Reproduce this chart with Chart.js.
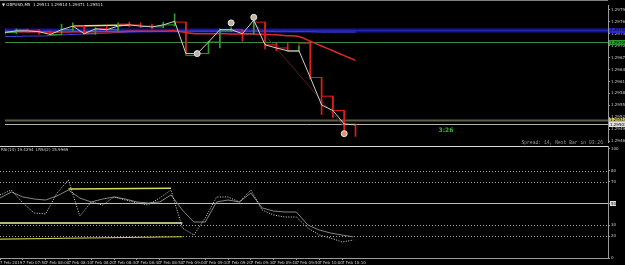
<!DOCTYPE html>
<html>
<head>
<meta charset="utf-8">
<script src="https://cdn.jsdelivr.net/npm/chart.js@4.4.1/dist/chart.umd.min.js"></script>
<style>
html,body{margin:0;padding:0;background:#000;overflow:hidden}
#wrap{position:relative;width:625px;height:265px;background:#000}
#priceChart{position:absolute;left:0;top:0}
#rsiChart{position:absolute;left:0;top:146px}
</style>
</head>
<body>
<div id="wrap">
<canvas id="priceChart" width="625" height="147"></canvas>
<canvas id="rsiChart" width="625" height="119"></canvas>
</div>
<script>
// GBPUSD M5, 7 Feb 2019 07:40 - 10:15
var timeLabels = ['7 Feb 2019','7 Feb 07:50','7 Feb 08:00','7 Feb 08:10','7 Feb 08:20','7 Feb 08:30','7 Feb 08:40','7 Feb 08:50',
  '7 Feb 09:00','7 Feb 09:10','7 Feb 09:20','7 Feb 09:30','7 Feb 09:40','7 Feb 09:50','7 Feb 10:00','7 Feb 10:10'];

var barOpen  = [1.29735,1.29733,1.29740,1.29737,1.29735,1.29728,1.29740,1.29749,1.29730,1.29742,1.29740,1.29754,1.29752,1.29749,1.29747,1.29752,
                1.29759,1.29675,1.29680,1.29709,1.29737,1.29740,1.29730,1.29759,1.29702,1.29694,1.29685,1.29706,1.29620,1.29573,1.29537,1.29503];
var barHigh  = [1.29740,1.29742,1.29742,1.29740,1.29737,1.29754,1.29757,1.29749,1.29745,1.29749,1.29757,1.29759,1.29757,1.29754,1.29759,1.29780,
                1.29759,1.29685,1.29711,1.29742,1.29745,1.29740,1.29771,1.29759,1.29706,1.29706,1.29699,1.29706,1.29620,1.29573,1.29537,1.29503];
var barLow   = [1.29728,1.29730,1.29733,1.29728,1.29725,1.29728,1.29737,1.29728,1.29728,1.29737,1.29737,1.29747,1.29745,1.29742,1.29745,1.29749,
                1.29680,1.29675,1.29680,1.29694,1.29735,1.29711,1.29728,1.29692,1.29687,1.29685,1.29685,1.29616,1.29527,1.29520,1.29479,1.29472];
var barClose = [1.29733,1.29737,1.29737,1.29735,1.29728,1.29740,1.29749,1.29730,1.29742,1.29740,1.29749,1.29752,1.29749,1.29747,1.29752,1.29761,
                1.29680,1.29680,1.29709,1.29740,1.29740,1.29730,1.29764,1.29702,1.29694,1.29687,1.29687,1.29620,1.29551,1.29537,1.29503,1.29501];

var maRed  = [1.29735,1.29735,1.29735,1.29735,1.29734,1.29734,1.29735,1.29735,1.29735,1.29735,1.29735,1.29736,1.29736,1.29736,1.29736,1.29737,
              1.29733,1.29730,1.29730,1.29730,1.29729,1.29729,1.29729,1.29728,1.29727,1.29725,1.29723,1.29711,1.29699,1.29687,1.29675,1.29663];
var maBlue = [1.29723,1.29723,1.29724,1.29724,1.29725,1.29727,1.29728,1.29729,1.29730,1.29731,1.29733,1.29734,1.29735,1.29735,1.29736,1.29736,
              1.29736,1.29736,1.29736,1.29736,1.29736,1.29736,1.29736,1.29736,1.29735,1.29735,1.29735,1.29735,1.29734,1.29734,1.29734,1.29734];

var priceTicks = [1.29790,1.29760,1.29730,1.29700,1.29670,1.29640,1.29610,1.29580,1.29550,1.29520,1.29490,1.29460];
var levelPrices = [1.29740, 1.29709, 1.29514, 1.29503];
var wavePoints = [[17, 1.29680], [20, 1.29757], [22, 1.29771], [30, 1.29479]];
var trendYellow = [[6, 1.29749], [11, 1.29752]];
var trendDarkRed = [[22, 1.29759], [30, 1.29496]];

var rsiMain   = [57.8,62.4,50.5,41.3,40.4,59.6,71.6,38.5,51.4,48.6,56.0,53.2,50.5,48.6,55.0,62.4,
                 27.5,21.1,36.7,56.0,56.0,51.4,62.4,44.0,39.4,37.6,37.6,27.5,21.1,18.3,14.7,16.5];
var rsiSignal = [55.0,60.6,56.0,54.1,53.2,56.9,62.4,55.0,51.4,54.1,56.0,54.1,51.4,50.5,51.4,57.8,
                 44.0,33.0,33.0,51.4,53.2,51.4,59.6,45.9,43.1,42.2,42.2,30.3,25.7,22.9,21.1,19.3];
var rsiTicks = [100, 80, 70, 50, 30, 20, 0];
var rsiDotLevels = [80, 70, 30, 20];
var rsiMid = 50;
var rsiTrendTop = [[6, 63.3], [15, 64.0]];
var rsiTrendMid = [[0, 32.1], [16, 32.1]];
var rsiTrendLow = [[0, 17.4], [16, 19.5]];

var VISIBLE_BARS = 53.33;

function pts(arr) { return arr.map(function (v, i) { return {x: i, y: v}; }); }
function pairs(arr) { return arr.map(function (p) { return {x: p[0], y: p[1]}; }); }

var barColor = barClose.map(function (c, i) { return c >= barOpen[i] ? '#2f9a2f' : '#e21c1c'; });

var mainDeco = {
  id: 'mainDeco',
  beforeDatasetsDraw: function (chart) {
    var ctx = chart.ctx, a = chart.chartArea, y = chart.scales.y;
    ctx.save();
    var cols = ['#16168a', '#3c8a3c', '#5e5e44', '#b4b4b4'];
    var wid = [4, 1, 2, 1];
    levelPrices.forEach(function (p, k) {
      var py = Math.round(y.getPixelForValue(p)) + 0.5;
      ctx.strokeStyle = cols[k]; ctx.lineWidth = wid[k];
      ctx.beginPath(); ctx.moveTo(a.left, py); ctx.lineTo(a.right, py); ctx.stroke();
      if (k === 0) {
        ctx.strokeStyle = '#2424b4'; ctx.lineWidth = 1;
        ctx.beginPath(); ctx.moveTo(a.left, py); ctx.lineTo(a.right, py); ctx.stroke();
      }
    });
    ctx.strokeStyle = '#808080'; ctx.lineWidth = 1;
    ctx.beginPath(); ctx.moveTo(0, 0.5); ctx.lineTo(a.right, 0.5); ctx.stroke();
    ctx.restore();
  },
  afterDraw: function (chart) {
    var ctx = chart.ctx, a = chart.chartArea, y = chart.scales.y;
    ctx.save();
    var tagCols = ['#2a2ad0', '#2e9a2e', '#c8c060', '#e0e0e0'];
    ctx.font = '4px "DejaVu Sans"';
    ctx.textBaseline = 'middle';
    levelPrices.forEach(function (p, k) {
      var py = y.getPixelForValue(p);
      ctx.fillStyle = tagCols[k];
      ctx.fillRect(a.right + 1, Math.round(py) - 2, 16, 5);
      ctx.fillStyle = '#000';
      ctx.fillText(p.toFixed(5), a.right + 2, py + 0.5);
    });
    ctx.fillStyle = '#e0e0e0';
    ctx.font = '4px "DejaVu Sans"';
    ctx.fillText('\u25BC GBPUSD,M5  1.29511 1.29514 1.29471 1.29511', 2, 5);
    ctx.fillStyle = '#3fb83f';
    ctx.font = 'bold 6px "DejaVu Sans"';
    ctx.textAlign = 'center';
    ctx.fillText('3:26', 446, 130);
    ctx.fillStyle = '#9a9a9a';
    ctx.font = '4.7px "Liberation Mono"';
    ctx.textAlign = 'right';
    ctx.fillText('Spread: 14, Next Bar in 03:26', 603, 143);
    ctx.restore();
  }
};

var rsiDeco = {
  id: 'rsiDeco',
  beforeDatasetsDraw: function (chart) {
    var ctx = chart.ctx, a = chart.chartArea, y = chart.scales.y;
    ctx.save();
    ctx.strokeStyle = '#a8a8a8'; ctx.lineWidth = 1;
    ctx.setLineDash([1, 2]);
    rsiDotLevels.forEach(function (v) {
      var py = Math.round(y.getPixelForValue(v)) + 0.5;
      ctx.beginPath(); ctx.moveTo(a.left, py); ctx.lineTo(a.right, py); ctx.stroke();
    });
    ctx.setLineDash([]);
    ctx.strokeStyle = '#bcbcbc';
    var pm = Math.round(y.getPixelForValue(rsiMid)) + 0.5;
    ctx.beginPath(); ctx.moveTo(a.left, pm); ctx.lineTo(a.right, pm); ctx.stroke();
    ctx.strokeStyle = '#d8d8d8';
    ctx.beginPath(); ctx.moveTo(0, 0.5); ctx.lineTo(a.right, 0.5); ctx.stroke();
    ctx.restore();
  },
  afterDraw: function (chart) {
    var ctx = chart.ctx, a = chart.chartArea, y = chart.scales.y;
    ctx.save();
    var pm = y.getPixelForValue(rsiMid);
    ctx.fillStyle = '#e0e0e0';
    ctx.fillRect(a.right + 2, Math.round(pm) - 2, 6, 5);
    ctx.fillStyle = '#000';
    ctx.font = '4px "DejaVu Sans"';
    ctx.textBaseline = 'middle';
    ctx.fillText('50', a.right + 3, pm + 0.5);
    ctx.fillStyle = '#d0d0d0';
    ctx.fillText('RSI(14) 19.4294  LRSI(2) 15.9969', 1, 4);
    ctx.restore();
  }
};

function rightAxis(min, max, ticks, fmt) {
  return {
    position: 'right', min: min, max: max,
    afterFit: function (s) { s.width = 17; s.paddingTop = 0; s.paddingBottom = 0; },
    afterBuildTicks: function (s) { s.ticks = ticks.map(function (v) { return {value: v}; }); },
    ticks: { color: '#c8c8c8', font: {size: 4, family: 'DejaVu Sans'}, padding: 1, callback: fmt },
    grid: { drawOnChartArea: false, tickLength: 2, color: '#9a9a9a' },
    border: { color: '#9a9a9a' }
  };
}

new Chart(document.getElementById('priceChart'), {
  type: 'bar',
  data: {
    datasets: [
      { type: 'line', data: pairs(wavePoints), showLine: false, pointRadius: 3, pointBorderWidth: 1,
        pointBackgroundColor: ['#bcb59c', '#bcb59c', '#bcb59c', '#e0946a'], pointBorderColor: '#e6e6e6' },
      { type: 'line', data: pts(barClose), borderColor: '#c8d4c8', borderWidth: 1, pointRadius: 0 },
      { type: 'bar', data: barLow.map(function (l, i) { return {x: i, y: [l, barHigh[i]]}; }),
        backgroundColor: barColor, barThickness: 1 },
      { type: 'line', data: pts(barOpen), stepped: 'after', borderWidth: 1, pointRadius: 0,
        segment: { borderColor: function (c) { return barColor[c.p1DataIndex]; } } },
      { type: 'line', data: pairs(trendYellow), borderColor: '#e8e070', borderWidth: 1.5, pointRadius: 0 },
      { type: 'line', data: pairs(trendDarkRed), borderColor: '#5e1c1c', borderWidth: 1, pointRadius: 0 },
      { type: 'line', data: pts(maRed), borderColor: '#e02828', borderWidth: 1.5, pointRadius: 0, tension: 0.3 },
      { type: 'line', data: pts(maBlue), borderColor: '#4040d8', borderWidth: 1, pointRadius: 0, tension: 0.3 }
    ]
  },
  options: {
    responsive: false, devicePixelRatio: 1, animation: false, events: [],
    layout: { padding: { top: 2, bottom: 1, left: 0, right: 0 } },
    plugins: { legend: { display: false }, tooltip: { enabled: false } },
    scales: {
      x: { type: 'linear', min: 0, max: VISIBLE_BARS, offset: false, display: false },
      y: rightAxis(1.29458, 1.29802, priceTicks, function (v) { return v.toFixed(5); })
    }
  },
  plugins: [mainDeco]
});

new Chart(document.getElementById('rsiChart'), {
  type: 'line',
  data: {
    datasets: [
      { data: pts(rsiMain), borderColor: '#dcdcdc', borderWidth: 1, borderDash: [1, 1.5], pointRadius: 0 },
      { data: pts(rsiSignal), borderColor: '#7c8c7c', borderWidth: 1, pointRadius: 0 },
      { data: pairs(rsiTrendTop), borderColor: '#d8d860', borderWidth: 1.5, pointRadius: 0 },
      { data: pairs(rsiTrendMid), borderColor: '#f0f0b0', borderWidth: 1.5, pointRadius: 0 },
      { data: pairs(rsiTrendLow), borderColor: '#c4c444', borderWidth: 1.2, pointRadius: 0 }
    ]
  },
  options: {
    responsive: false, devicePixelRatio: 1, animation: false, events: [],
    layout: { padding: 0 },
    plugins: { legend: { display: false }, tooltip: { enabled: false } },
    scales: {
      x: {
        type: 'linear', min: 0, max: VISIBLE_BARS, offset: false, position: 'bottom',
        afterFit: function (s) { s.height = 7; s.paddingLeft = 0; s.paddingRight = 0; },
        afterBuildTicks: function (s) { s.ticks = timeLabels.map(function (t, k) { return {value: k * 2}; }); },
        ticks: { color: '#c8c8c8', font: {size: 4, family: 'DejaVu Sans'}, padding: 1, align: 'start',
          maxRotation: 0, autoSkip: false, callback: function (v) { return timeLabels[v / 2]; } },
        grid: { drawOnChartArea: false, tickLength: 2, color: '#9a9a9a' },
        border: { color: '#9a9a9a' }
      },
      y: rightAxis(0, 102.75, rsiTicks, function (v) { return v === rsiMid ? '' : String(v); })
    }
  },
  plugins: [rsiDeco]
});
</script>
</body>
</html>
